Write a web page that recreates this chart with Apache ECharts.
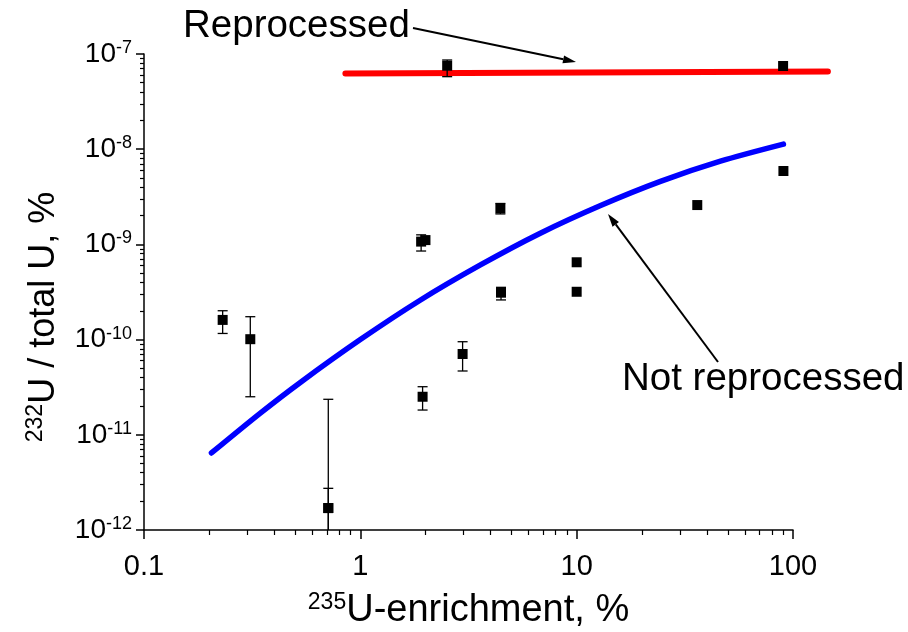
<!DOCTYPE html>
<html><head><meta charset="utf-8">
<script src="https://cdn.jsdelivr.net/npm/echarts@6/dist/echarts.min.js"></script>
<style>html,body{margin:0;padding:0;background:#fff}#c{width:908px;height:632px}</style>
</head><body><div id="c"></div>
<script>
// Measured points (x: 235U enrichment %, y: 232U / total U %)
const enrichment = [0.231, 0.310, 0.711, 0.711, 1.91, 2.00, 1.94, 2.97, 4.44, 4.47, 10.0, 10.0, 36.1, 90.3, 2.52, 90.0];
const ratio      = [1.61e-10, 1.01e-10, 1.70e-12, 1.70e-12, 1.07e-9, 1.11e-9, 2.51e-11, 7.06e-11, 2.39e-9, 3.11e-10, 6.49e-10, 3.18e-10, 2.59e-9, 5.90e-9, 7.53e-8, 7.48e-8];
const errLow     = [1.16e-10, 2.51e-11, 1e-13, 1e-13, 8.52e-10, null, 1.82e-11, 4.68e-11, 2.09e-9, 2.61e-10, null, null, null, null, 5.78e-8, null];
const errHigh    = [2.01e-10, 1.74e-10, 2.36e-11, 2.74e-12, 1.26e-9, null, 3.20e-11, 9.50e-11, 2.69e-9, 3.54e-10, null, null, null, null, 8.65e-8, null];

// Model curves
const reprocX = [0.853, 145];
const reprocY = [6.24e-8, 6.55e-8];
const notReprocX = [0.205, 0.345, 0.528, 1.0, 1.89, 3.59, 6.79, 12.9, 24.4, 46.2, 90.3];
const notReprocY = [6.44e-12, 1.69e-11, 3.55e-11, 1.00e-10, 2.59e-10, 6.08e-10, 1.31e-9, 2.56e-9, 4.59e-9, 7.48e-9, 1.13e-8];

// Axis ticks
const xTicks = [0.1, 1, 10, 100];
const xTickLabels = ['0.1', '1', '10', '100'];
const yTickExps = [-12, -11, -10, -9, -8, -7];
const yTicks = yTickExps.map(e => Math.pow(10, e));
const xMinor = [];
[0.1, 1, 10].forEach(d => { for (let k = 2; k <= 9; k++) xMinor.push(+(d * k).toPrecision(3)); });
const yMinor = [];
yTickExps.slice(0, 5).forEach(e => { for (let k = 2; k <= 9; k++) yMinor.push(k * Math.pow(10, e)); });

const FONT = 'Liberation Sans, Arial, sans-serif';
const chart = echarts.init(document.getElementById('c'));

function arrow(x1, y1, x2, y2) {
  const dx = x2 - x1, dy = y2 - y1, L = Math.hypot(dx, dy);
  const ux = dx / L, uy = dy / L, hl = 13, hw = 4;
  const bx = x2 - hl * ux, by = y2 - hl * uy;
  return [
    { type: 'line', shape: { x1: x1, y1: y1, x2: bx, y2: by }, style: { stroke: '#000', lineWidth: 2 } },
    { type: 'polygon', shape: { points: [[x2, y2], [bx - hw * uy, by + hw * ux], [bx + hw * uy, by - hw * ux]] }, style: { fill: '#000' } }
  ];
}

// pixel position on the log axes, extrapolated beyond the axis end if needed
function coordExt(api, x, y) {
  const a = api.coord([1, y]), b = api.coord([10, y]);
  return [a[0] + (b[0] - a[0]) * Math.log10(x), a[1]];
}

const scatterData = enrichment.map((x, i) => [x, ratio[i]]);
const errData = enrichment.map((x, i) => [x, ratio[i], errLow[i], errHigh[i]]).filter(d => d[2] != null);

chart.setOption({
  animation: false,
  backgroundColor: '#fff',
  grid: { left: 144, right: 115, top: 54, bottom: 102, outerBoundsMode: 'none', containLabel: false },
  xAxis: [{
    type: 'log', logBase: 10, min: 0.1, max: 100,
    name: '{s|235}{n|U-enrichment, %}', nameLocation: 'middle', nameGap: 61,
    nameTextStyle: { rich: {
      s: { fontSize: 23, fontFamily: FONT, color: '#000', verticalAlign: 'top', lineHeight: 22 },
      n: { fontSize: 38, fontFamily: FONT, color: '#000', lineHeight: 40 } } },
    axisLine: { lineStyle: { color: '#000', width: 1.5 } },
    axisTick: { length: 9, lineStyle: { color: '#000', width: 1.5 }, customValues: xTicks },
    axisLabel: { fontSize: 29, fontFamily: FONT, color: '#000', margin: 22, customValues: xTicks,
      formatter: v => { const i = xTicks.findIndex(t => Math.abs(Math.log10(t) - Math.log10(v)) < 1e-6); return i >= 0 ? xTickLabels[i] : ''; } },
    splitLine: { show: false }
  }, {
    type: 'log', logBase: 10, min: 0.1, max: 100, position: 'bottom',
    axisLine: { show: false },
    axisTick: { length: 5, lineStyle: { color: '#000', width: 1.2 }, customValues: xMinor },
    axisLabel: { show: false }, splitLine: { show: false }
  }],
  yAxis: [{
    type: 'log', logBase: 10, min: 1e-12, max: 1e-7,
    name: '{s|232}{n|U / total U, %}', nameLocation: 'middle', nameGap: 80, nameRotate: 90,
    nameTextStyle: { padding: [0, 50, 0, 0], rich: {
      s: { fontSize: 23, fontFamily: FONT, color: '#000', verticalAlign: 'top', lineHeight: 22 },
      n: { fontSize: 36, fontFamily: FONT, color: '#000', lineHeight: 40 } } },
    axisLine: { lineStyle: { color: '#000', width: 1.5 } },
    axisTick: { length: 8, lineStyle: { color: '#000', width: 1.5 }, customValues: yTicks },
    axisLabel: { margin: 12, customValues: yTicks,
      formatter: v => '{b|10}{s|' + Math.round(Math.log10(v)) + '}',
      rich: {
        b: { fontSize: 28, fontFamily: FONT, color: '#000', lineHeight: 30 },
        s: { fontSize: 18, fontFamily: FONT, color: '#000', verticalAlign: 'top', lineHeight: 18 } } },
    splitLine: { show: false }
  }, {
    type: 'log', logBase: 10, min: 1e-12, max: 1e-7, position: 'left',
    axisLine: { show: false },
    axisTick: { length: 4, lineStyle: { color: '#000', width: 1.2 }, customValues: yMinor },
    axisLabel: { show: false }, splitLine: { show: false }
  }],
  series: [{
    type: 'custom', name: 'Reprocessed', data: reprocX.map((x, i) => [x, reprocY[i]]),
    clip: false, z: 3, encode: { x: 0, y: 1 },
    renderItem: (params, api) => {
      const i = params.dataIndex;
      if (i >= reprocX.length - 1) return null;
      const p1 = coordExt(api, reprocX[i], reprocY[i]);
      const p2 = coordExt(api, reprocX[i + 1], reprocY[i + 1]);
      return { type: 'line', shape: { x1: p1[0], y1: p1[1], x2: p2[0], y2: p2[1] },
        style: { stroke: '#ff0000', lineWidth: 6, lineCap: 'round' } };
    }
  }, {
    type: 'line', name: 'Not reprocessed', data: notReprocX.map((x, i) => [x, notReprocY[i]]),
    clip: false, showSymbol: false, symbol: 'none', smooth: 0.3,
    lineStyle: { color: '#0000ff', width: 5.5, cap: 'round' }, z: 3
  }, {
    type: 'custom', name: 'err', data: errData, clip: true, z: 4,
    encode: { x: 0, y: 1 },
    renderItem: (params, api) => {
      const x = api.value(0), lo = api.value(2), hi = api.value(3);
      const pLo = api.coord([x, lo]), pHi = api.coord([x, hi]);
      const cw = 5;
      return { type: 'group', children: [
        { type: 'line', shape: { x1: pLo[0], y1: pLo[1], x2: pHi[0], y2: pHi[1] }, style: { stroke: '#000', lineWidth: 1.3 } },
        { type: 'line', shape: { x1: pHi[0] - cw, y1: pHi[1], x2: pHi[0] + cw, y2: pHi[1] }, style: { stroke: '#000', lineWidth: 1.3 } },
        { type: 'line', shape: { x1: pLo[0] - cw, y1: pLo[1], x2: pLo[0] + cw, y2: pLo[1] }, style: { stroke: '#000', lineWidth: 1.3 } }
      ] };
    }
  }, {
    type: 'scatter', name: 'data', data: scatterData, symbol: 'rect', symbolSize: 10,
    itemStyle: { color: '#000', opacity: 1 }, z: 5
  }],
  graphic: [
    { type: 'text', left: 183, top: 7, style: { text: 'Reprocessed', fontSize: 38.5, fontFamily: FONT, fill: '#000' } },
    { type: 'text', left: 622, top: 360, style: { text: 'Not reprocessed', fontSize: 38.5, fontFamily: FONT, fill: '#000' } },
    ...arrow(413, 28, 576, 62),
    ...arrow(718, 362, 608, 214)
  ]
});
</script></body></html>
